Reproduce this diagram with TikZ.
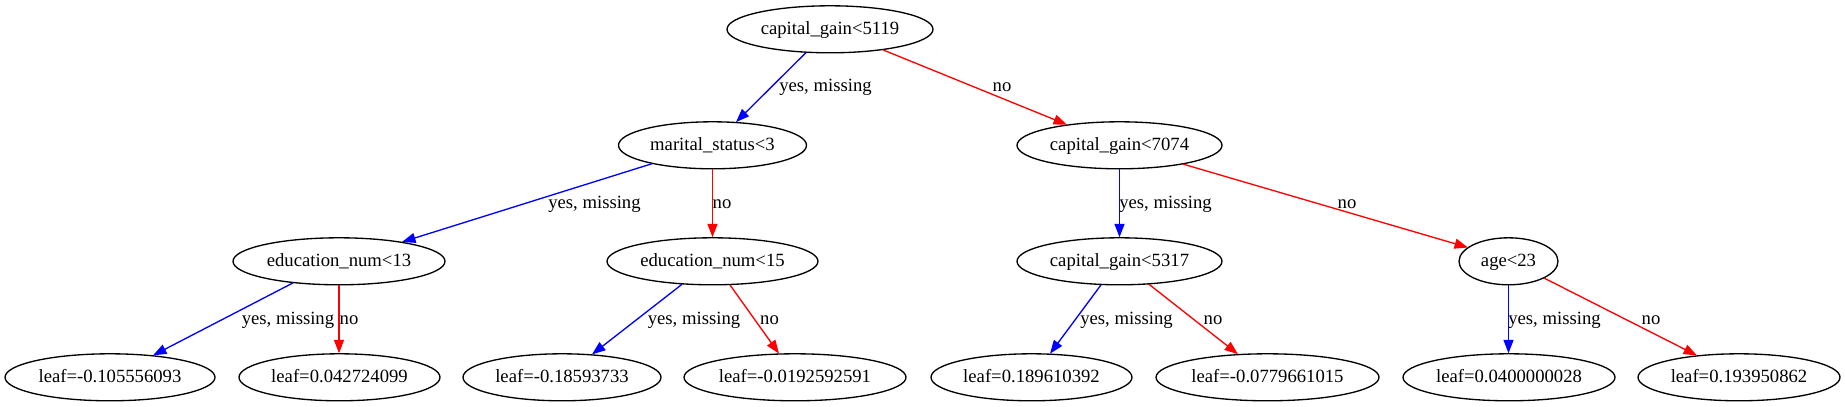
\documentclass[tikz,border=0pt]{standalone}
\usepackage{fontspec}
\setmainfont{Liberation Serif}
\usetikzlibrary{shapes.geometric,arrows.meta,calc}
\begin{document}
\begin{tikzpicture}[x=1pt,y=-1pt,
  gv/.style={ellipse, draw=black, line width=1.33pt, inner sep=0pt, minimum height=47pt,
    font=\fontsize{18.67}{22}\selectfont, text height=14pt, text depth=4pt},
  yesedge/.style={draw=blue, line width=1.33pt, -{Triangle[length=13.5pt,width=10pt]}},
  noedge/.style={draw=red, line width=1.33pt, -{Triangle[length=13.5pt,width=10pt]}},
  lbl/.style={anchor=base, inner sep=0pt, font=\fontsize{18.67}{22}\selectfont}]
\useasboundingbox (0,0) rectangle (1845,407);
% nodes
\node[gv, minimum width=206pt] (root)    at (830,29.3)    {capital\_gain<5119};
\node[gv, minimum width=188pt] (marital) at (712.5,145.3) {marital\_status<3};
\node[gv, minimum width=205pt] (cg7074)  at (1119.5,145.3) {capital\_gain<7074};
\node[gv, minimum width=212pt] (edu13)   at (339,261.3)   {education\_num<13};
\node[gv, minimum width=211pt] (edu15)   at (712.5,261.3) {education\_num<15};
\node[gv, minimum width=205pt] (cg5317)  at (1119.5,261.3) {capital\_gain<5317};
\node[gv, minimum width=99pt]  (age)     at (1508.5,261.3) {age<23};
\node[gv, minimum width=210pt] (leafa)   at (110,377.3)   {leaf=-0.105556093};
\node[gv, minimum width=201pt] (leafb)   at (339.5,377.3) {leaf=0.042724099};
\node[gv, minimum width=198pt] (leafc)   at (562,377.3)   {leaf=-0.18593733};
\node[gv, minimum width=222pt] (leafd)   at (795,377.3)   {leaf=-0.0192592591};
\node[gv, minimum width=201pt] (leafe)   at (1031.5,377.3) {leaf=0.189610392};
\node[gv, minimum width=223pt] (leaff)   at (1267.5,377.3) {leaf=-0.0779661015};
\node[gv, minimum width=212pt] (leafg)   at (1509,377.3)  {leaf=0.0400000028};
\node[gv, minimum width=202pt] (leafh)   at (1739,377.3)  {leaf=0.193950862};
% edges
\draw[yesedge] ($(root)+(-24,23.3)$) -- ($(marital)+(23.5,-23.2)$);
\draw[noedge]  ($(root)+(53,20.6)$) -- ($(cg7074)+(-52.5,-20.6)$);
\draw[yesedge] ($(marital)+(-60.5,18.4)$) -- ($(edu13)+(63,-19.3)$);
\draw[noedge]  ($(marital)+(0,24)$) -- ($(edu15)+(0,-24)$);
\draw[yesedge] ($(cg7074)+(0,24)$) -- ($(cg5317)+(0,-24)$);
\draw[noedge]  ($(cg7074)+(63.5,18.8)$) -- ($(age)+(-40.5,-13.8)$);
\draw[yesedge] ($(edu13)+(-46,21.6)$) -- ($(leafa)+(43,-21.9)$);
\draw[noedge]  ($(edu13)+(0,24)$) -- ($(leafb)+(-0.5,-24)$);
\draw[yesedge] ($(edu15)+(-30.5,23)$) -- ($(leafc)+(30,-22.9)$);
\draw[noedge]  ($(edu15)+(17.5,23.7)$) -- ($(leafd)+(-16,-23.7)$);
\draw[yesedge] ($(cg5317)+(-18.5,23.6)$) -- ($(leafe)+(18.5,-23.6)$);
\draw[noedge]  ($(cg5317)+(29.5,23)$) -- ($(leaff)+(-29.5,-23.1)$);
\draw[yesedge] ($(age)+(0,24)$) -- ($(leafg)+(-0.5,-24)$);
\draw[noedge]  ($(age)+(35.5,16.7)$) -- ($(leafh)+(-42,-21.8)$);
% edge labels
\node[lbl] (la) at (825.5,91.7)  {yes, missing};
\node[lbl] (lb) at (1002,91.7)   {no};
\node[lbl] (lc) at (594.5,208)   {yes, missing};
\node[lbl] (ld) at (722,208)     {no};
\node[lbl] (le) at (1165.5,208)  {yes, missing};
\node[lbl] (lf) at (1347,208)    {no};
\node[lbl] (lg) at (288,324)     {yes, missing};
\node[lbl] (lh) at (349,324)     {no};
\node[lbl] (li) at (694,324)     {yes, missing};
\node[lbl] (lj) at (769.5,324)   {no};
\node[lbl] (lk) at (1126.5,324)  {yes, missing};
\node[lbl] (ll) at (1213,324)    {no};
\node[lbl] (lm) at (1554.5,324)  {yes, missing};
\node[lbl] (ln) at (1651,324)    {no};
\end{tikzpicture}
\end{document}
